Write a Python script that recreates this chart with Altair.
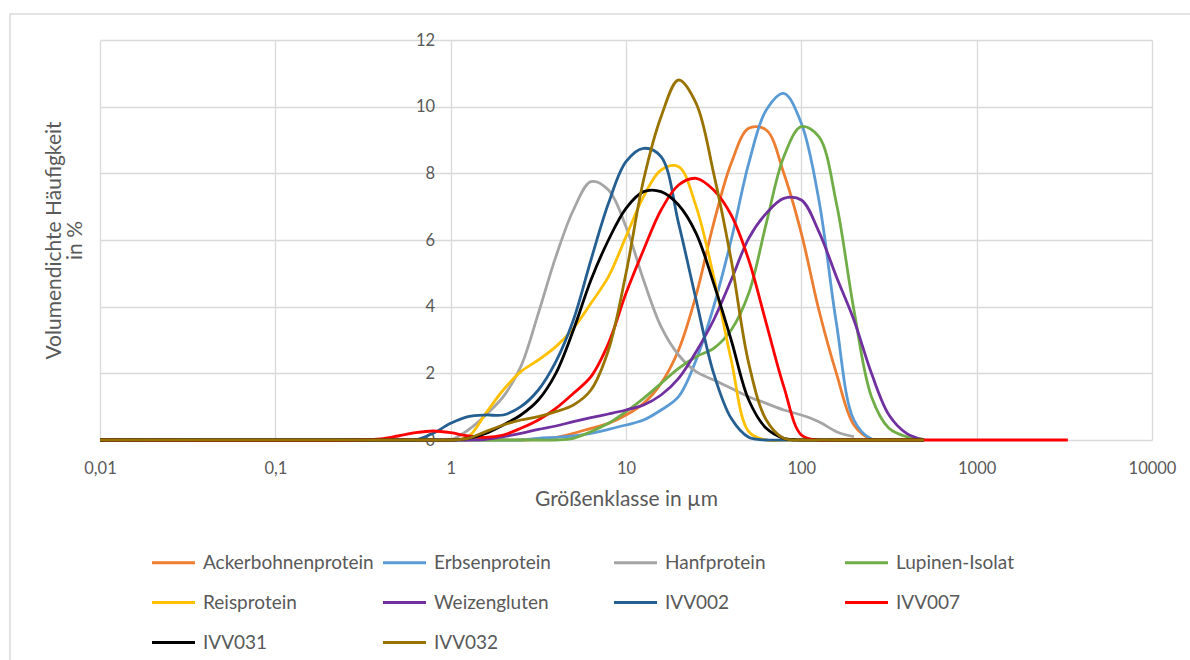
import altair as alt
import pandas as pd

# particle size classes in µm (shared x grid)
sizes = [0.01,
         0.316, 0.398, 0.501, 0.631, 0.794, 1.0, 1.259, 1.585, 1.995, 2.512,
         3.162, 3.981, 5.012, 6.31, 7.943, 10.0, 12.59, 15.85, 19.95, 25.12,
         31.62, 39.81, 50.12, 63.1, 79.43, 100.0, 125.9, 158.5, 199.5, 251.2,
         316.2, 398.1, 501.2,
         3311]

series_names = ["Ackerbohnenprotein", "Erbsenprotein", "Hanfprotein", "Lupinen-Isolat",
                "Reisprotein", "Weizengluten", "IVV002", "IVV007", "IVV031", "IVV032"]
colors = ["#ED7D31", "#5B9BD5", "#A5A5A5", "#70AD47", "#FFC000",
          "#7030A0", "#255E91", "#FF0000", "#000000", "#997300"]

acker = [0,
         0, 0, 0, 0, 0, 0, 0, 0, 0, 0,
         0.03, 0.08, 0.2, 0.35, 0.5, 0.75, 1.1, 1.7, 2.7, 4.35,
         6.5, 8.3, 9.35, 9.3, 8.0, 6.2, 3.9, 2.0, 0.45, 0.02,
         0, 0, 0,
         None]
erbsen = [0,
          0, 0, 0, 0, 0, 0, 0, 0, 0, 0,
          0.05, 0.08, 0.12, 0.2, 0.32, 0.45, 0.6, 0.9, 1.3, 2.4,
          4.0, 6.0, 8.3, 9.9, 10.4, 9.5, 7.2, 3.5, 0.6, 0.03,
          0, 0, 0,
          None]
hanf = [0,
        0, 0, 0, 0, 0, 0, 0.3, 0.75, 1.3, 2.2,
        3.8, 5.5, 6.9, 7.75, 7.5, 6.4, 4.8, 3.4, 2.55, 2.05,
        1.8, 1.55, 1.3, 1.1, 0.9, 0.75, 0.55, 0.25, 0.1, None,
        None, None, None,
        None]
lupinen = [0,
           0, 0, 0, 0, 0, 0, 0, 0, 0, 0,
           0, 0, 0.05, 0.25, 0.5, 0.85, 1.25, 1.7, 2.15, 2.5,
           2.75, 3.3, 4.4, 6.5, 8.5, 9.4, 9.1, 7.1, 3.9, 1.3,
           0.35, 0.1, 0.02,
           None]
reis = [0,
        0, 0, 0, 0, 0, 0, 0.1, 0.8, 1.5, 2.05,
        2.4, 2.8, 3.35, 4.1, 4.9, 6.1, 7.3, 8.1, 8.2, 7.0,
        4.9, 2.4, 0.25, 0, 0, 0, 0, 0, 0, 0,
        0, 0, 0,
        None]
weizen = [0,
          0, 0, 0, 0, 0, 0, 0, 0.02, 0.1, 0.2,
          0.32, 0.42, 0.55, 0.67, 0.78, 0.9, 1.05, 1.35, 1.85, 2.65,
          3.6, 4.8, 6.05, 6.8, 7.25, 7.2, 6.25, 4.9, 3.6, 2.0,
          0.75, 0.2, 0,
          None]
ivv002 = [0,
          0, 0, 0, 0, 0.2, 0.5, 0.7, 0.75, 0.75, 1.0,
          1.5, 2.35, 3.6, 5.4, 7.1, 8.35, 8.75, 8.5, 6.5, 4.2,
          2.0, 0.65, 0.08, 0, 0, 0, 0, 0, 0, 0,
          0, 0, 0,
          None]
ivv007 = [0,
          0, 0.03, 0.12, 0.22, 0.27, 0.22, 0.12, 0.08, 0.15, 0.35,
          0.6, 0.95, 1.4, 1.9, 2.9, 4.4, 5.7, 6.9, 7.65, 7.85,
          7.5, 6.75, 5.4, 3.5, 1.6, 0.15, 0, 0, 0, 0,
          0, 0, 0,
          0]
ivv031 = [0,
          0, 0, 0, 0, 0, 0, 0.05, 0.2, 0.45, 0.75,
          1.2, 2.0, 3.3, 4.8, 6.0, 6.95, 7.45, 7.45, 7.05, 6.2,
          4.7, 3.0, 1.2, 0.35, 0.05, 0, 0, 0, 0, 0,
          0, 0, 0,
          None]
ivv032 = [0,
          0, 0, 0, 0, 0, 0, 0.05, 0.25, 0.45, 0.6,
          0.7, 0.85, 1.05, 1.5, 2.7, 5.0, 7.8, 9.7, 10.8, 10.1,
          8.0, 5.4, 2.3, 0.6, 0.05, 0, 0, 0, 0, 0,
          0, 0, 0,
          None]

all_values = [acker, erbsen, hanf, lupinen, reis, weizen, ivv002, ivv007, ivv031, ivv032]

x_ticks = [0.01, 0.1, 1, 10, 100, 1000, 10000]
y_ticks = [0, 2, 4, 6, 8, 10, 12]

rows = []
for name, vals in zip(series_names, all_values):
    for s, v in zip(sizes, vals):
        if v is not None:
            rows.append({"size": s, "value": v, "series": name})
df = pd.DataFrame(rows)

FONT = "Lato"
TXT = "#595959"
GRID = "#d9d9d9"

border = alt.Chart(pd.DataFrame({"k": [0]})).mark_rect(
    fillOpacity=0, stroke=GRID, strokeWidth=1.5
).encode(
    x=alt.value(-90), x2=alt.value(1300), y=alt.value(-26), y2=alt.value(900)
)

lines = alt.Chart(df).mark_line(strokeWidth=2.8, interpolate="catmull-rom").encode(
    x=alt.X("size:Q",
            scale=alt.Scale(type="log", domain=[0.01, 10000], nice=False),
            axis=alt.Axis(values=x_ticks,
                          labelExpr="replace(format(datum.value, '~g'), '.', ',')",
                          title="Größenklasse in µm",
                          grid=True, gridColor=GRID, gridWidth=1.3,
                          domain=False, ticks=False, labelFlush=False, labelOverlap=False,
                          labelPadding=20, titlePadding=12,
                          labelFont=FONT, labelFontSize=16.5, labelColor=TXT,
                          titleFont=FONT, titleFontSize=21, titleColor=TXT,
                          titleFontWeight="normal")),
    y=alt.Y("value:Q",
            scale=alt.Scale(domain=[0, 12], nice=False),
            axis=alt.Axis(values=y_ticks,
                          title=["Volumendichte Häufigkeit", "in %"],
                          offset=-350.67,
                          grid=True, gridColor=GRID, gridWidth=1.3,
                          domain=False, ticks=False, labelPadding=16,
                          labelFont=FONT, labelFontSize=16.5, labelColor=TXT,
                          titleFont=FONT, titleFontSize=21, titleColor=TXT,
                          titleFontWeight="normal", titleAngle=270,
                          titleAlign="center", titleBaseline="middle",
                          titleLineHeight=21, titleX=-396, titleY=200)),
    color=alt.Color("series:N",
                    scale=alt.Scale(domain=series_names, range=colors),
                    legend=alt.Legend(title=None, orient="none", legendX=50, legendY=499,
                                      columns=4, direction="horizontal", gridAlign="all",
                                      symbolType="stroke", symbolStrokeWidth=3,
                                      symbolSize=1850, labelOffset=6, labelLimit=400,
                                      rowPadding=6, columnPadding=2,
                                      labelFont=FONT, labelFontSize=19, labelColor=TXT)),
    order=alt.Order("size:Q"),
)

chart = alt.layer(border, lines).properties(
    width=1052, height=400,
    padding={"left": 100, "top": 40, "right": 38, "bottom": 220},
    autosize=alt.AutoSizeParams(type="none"),
    background="white",
).configure_view(strokeWidth=0)

chart.save("out.html", embed_options={"renderer": "svg", "actions": False})
